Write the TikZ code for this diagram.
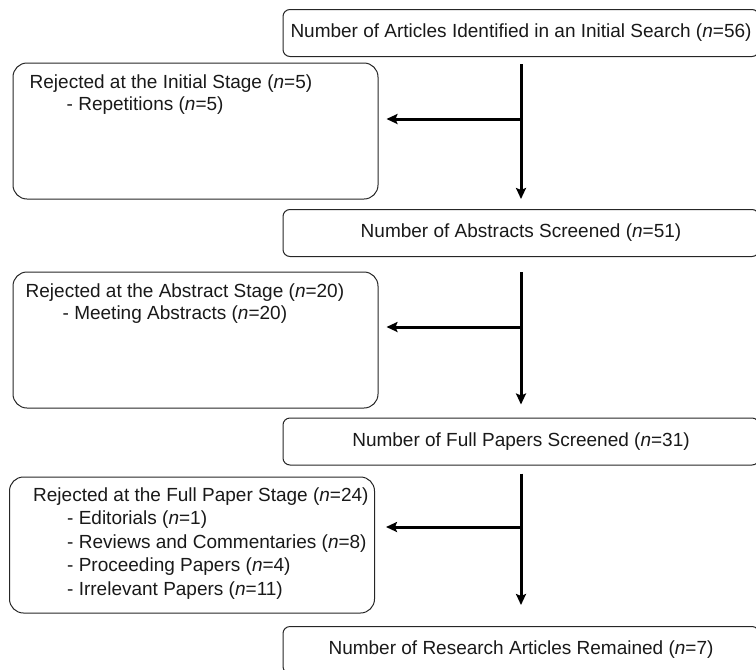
\documentclass[tikz,border=0pt]{standalone}
\usepackage{fontspec}
\setmainfont{Liberation Sans}
\usetikzlibrary{arrows.meta,positioning}

\tikzset{
  stagebox/.style={draw=black!85, line width=1pt, rounded corners=7pt,
    minimum width=476pt, minimum height=47pt, inner sep=0pt, text=black!90},
  rejectbox/.style={draw=black!85, line width=1pt, rounded corners=14pt,
    minimum width=365pt, minimum height=136pt, inner sep=0pt},
  rejecttext/.style={align=left, inner sep=0pt, text=black!90},
  flow/.style={line width=3pt, -{Stealth[length=11pt,width=10pt,inset=2pt]}},
}

\begin{document}
\begin{tikzpicture}[x=1pt,y=-1pt,font=\fontsize{19}{22}\selectfont]
\useasboundingbox (0,0) rectangle (756,670);

% main stages
\node[stagebox] (found) at (521,33) {Number of Articles Identified in an Initial Search (\textit{n}=56)};
\node[stagebox] (abstracts) at (521,233) {Number of Abstracts Screened (\textit{n}=51)};
\node[stagebox] (fullpapers) at (521,441.5) {Number of Full Papers Screened (\textit{n}=31)};
\node[stagebox] (remained) at (521,650) {Number of Research Articles Remained (\textit{n}=7)};

% rejected ones
\node[rejectbox] (initial) at (195.5,131) {};
\node[rejectbox] (abstract) at (195.5,340) {};
\node[rejectbox] (fullpaper) at (192,545) {};

\node[rejecttext, below right=12pt and 17pt of initial.north west] (initialtext)
  {Rejected at the Initial Stage (\textit{n}=5)\\
   \hspace*{37pt}- Repetitions (\textit{n}=5)};
\node[rejecttext, below right=12pt and 13pt of abstract.north west] (abstracttext)
  {Rejected at the Abstract Stage (\textit{n}=20)\\
   \hspace*{37pt}- Meeting Abstracts (\textit{n}=20)};
\node[rejecttext, font=\fontsize{19}{23.5}\selectfont,
  below right=11pt and 24pt of fullpaper.north west] (fullpapertext)
  {Rejected at the Full Paper Stage (\textit{n}=24)\\
   \hspace*{34pt}- Editorials (\textit{n}=1)\\
   \hspace*{34pt}- Reviews and Commentaries (\textit{n}=8)\\
   \hspace*{34pt}- Proceeding Papers (\textit{n}=4)\\
   \hspace*{34pt}- Irrelevant Papers (\textit{n}=11)};

% arrows
\coordinate (j1) at (521,119);
\coordinate (j2) at (521,327);
\coordinate (j3) at (521,527);

\draw[flow, shorten <=7pt, shorten >=10pt] (found.south -| j1) -- (abstracts.north -| j1);
\draw[flow, shorten >=8pt] (j1) -- (j1 -| initial.east);

\draw[flow, shorten <=15pt, shorten >=13pt] (abstracts.south -| j2) -- (fullpapers.north -| j2);
\draw[flow, shorten >=8pt] (j2) -- (j2 -| abstract.east);

\draw[flow, shorten <=8pt, shorten >=21pt] (fullpapers.south -| j3) -- (remained.north -| j3);
\draw[flow, shorten >=11pt] (j3) -- (j3 -| fullpaper.east);

\end{tikzpicture}
\end{document}
